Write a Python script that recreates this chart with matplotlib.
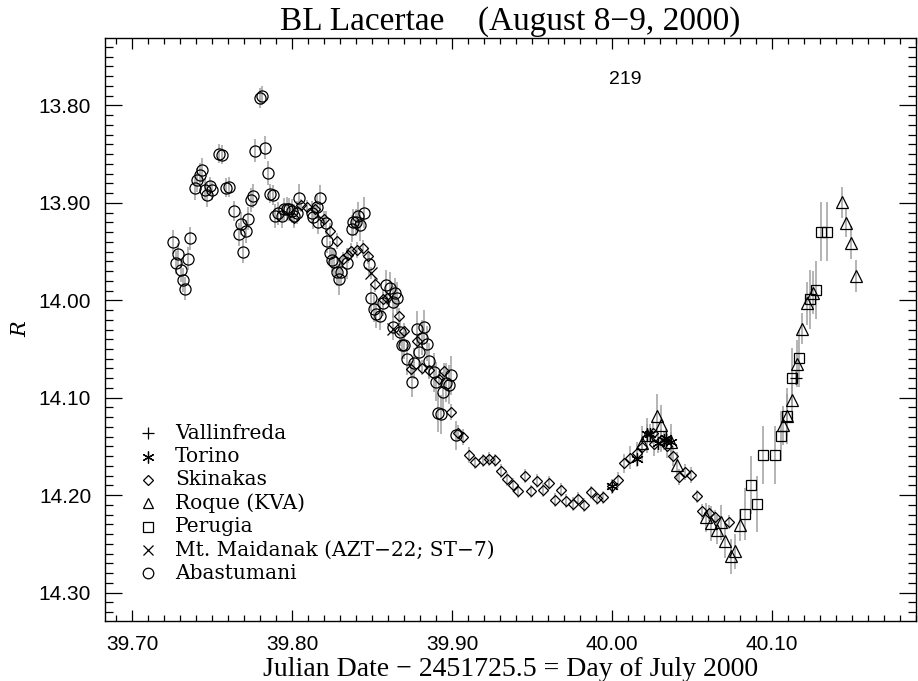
import matplotlib
matplotlib.use('Agg')
import matplotlib.pyplot as plt
from matplotlib.ticker import MultipleLocator, FormatStrFormatter

# Abastumani (circles)
abas_x = [39.7256, 39.7271, 39.7288, 39.7303, 39.7317, 39.7331, 39.7346, 39.7363, 39.7394, 39.7406,
          39.7421, 39.7438, 39.7453, 39.7469, 39.7486, 39.7500, 39.7544, 39.7561, 39.7586, 39.7603,
          39.7634, 39.7665, 39.7679, 39.7694, 39.7711, 39.7725, 39.7740, 39.7754, 39.7769, 39.7800,
          39.7813, 39.7829, 39.7846, 39.7861, 39.7878, 39.7892, 39.7909, 39.7934, 39.7950, 39.7967,
          39.7981, 39.7996, 39.8013, 39.8028, 39.8044, 39.8121, 39.8131, 39.8156, 39.8163, 39.8173,
          39.8211, 39.8219, 39.8236, 39.8246, 39.8261, 39.8278, 39.8294, 39.8303, 39.8344, 39.8371,
          39.8381, 39.8398, 39.8409, 39.8423, 39.8450, 39.8479, 39.8492, 39.8511, 39.8523, 39.8548,
          39.8569, 39.8586, 39.8611, 39.8628, 39.8628, 39.8642, 39.8653, 39.8673, 39.8684, 39.8698,
          39.8721, 39.8750, 39.8763, 39.8781, 39.8794, 39.8811, 39.8823, 39.8842, 39.8856, 39.8886,
          39.8898, 39.8913, 39.8929, 39.8944, 39.8961, 39.8978, 39.8992, 39.9023]
abas_r = [13.9404, 13.9615, 13.9530, 13.9694, 13.9793, 13.9881, 13.9574, 13.9366, 13.8853, 13.8768,
          13.8717, 13.8662, 13.8864, 13.8922, 13.8833, 13.8874, 13.8495, 13.8505, 13.8846, 13.8836,
          13.9086, 13.9325, 13.9215, 13.9502, 13.9294, 13.9164, 13.8973, 13.8932, 13.8467, 13.7924,
          13.7901, 13.8436, 13.8693, 13.8905, 13.8922, 13.9137, 13.9110, 13.9137, 13.9069, 13.9061,
          13.9069, 13.9086, 13.9137, 13.9102, 13.8949, 13.9102, 13.9148, 13.9045, 13.9199, 13.8956,
          13.9205, 13.9393, 13.9512, 13.9588, 13.9609, 13.9711, 13.9786, 13.9711, 13.9622, 13.9266,
          13.9199, 13.9199, 13.9137, 13.9233, 13.9102, 13.9632, 13.9973, 14.0086, 14.0144, 14.0162,
          14.0025, 13.9847, 13.9871, 14.0018, 14.0270, 13.9929, 13.9973, 14.0326, 14.0462, 14.0462,
          14.0606, 14.0834, 14.0647, 14.0291, 14.0527, 14.0383, 14.0275, 14.0445, 14.0623, 14.0736,
          14.0834, 14.1152, 14.1169, 14.0936, 14.0844, 14.0869, 14.0769, 14.1384]
abas_e = [0.012, 0.012, 0.012, 0.012, 0.012, 0.012, 0.012, 0.012, 0.012, 0.012,
          0.012, 0.012, 0.012, 0.012, 0.010, 0.010, 0.010, 0.010, 0.010, 0.010,
          0.010, 0.012, 0.012, 0.012, 0.012, 0.012, 0.012, 0.012, 0.012, 0.010,
          0.010, 0.012, 0.012, 0.010, 0.010, 0.012, 0.012, 0.012, 0.012, 0.012,
          0.012, 0.012, 0.012, 0.012, 0.014, 0.012, 0.012, 0.012, 0.012, 0.014,
          0.012, 0.012, 0.012, 0.012, 0.014, 0.014, 0.016, 0.014, 0.016, 0.014,
          0.014, 0.014, 0.014, 0.016, 0.016, 0.012, 0.014, 0.014, 0.014, 0.014,
          0.014, 0.016, 0.016, 0.016, 0.014, 0.016, 0.016, 0.014, 0.014, 0.014,
          0.016, 0.016, 0.016, 0.018, 0.018, 0.018, 0.018, 0.018, 0.018, 0.020,
          0.020, 0.020, 0.020, 0.020, 0.020, 0.020, 0.020, 0.015]

# Skinakas (diamonds)
skin_x = [39.8011, 39.8053, 39.8094, 39.8142, 39.8200, 39.8236, 39.8278, 39.8315, 39.8350, 39.8367,
          39.8406, 39.8440, 39.8471, 39.8517, 39.8565, 39.8590, 39.8669, 39.8700, 39.8746, 39.8778,
          39.8813, 39.8856, 39.8917, 39.8950, 39.8992, 39.9034, 39.9069, 39.9104, 39.9146, 39.9190,
          39.9229, 39.9271, 39.9303, 39.9340, 39.9381, 39.9415, 39.9456, 39.9492, 39.9531, 39.9569,
          39.9603, 39.9644, 39.9681, 39.9715, 39.9753, 39.9784, 39.9825, 39.9867, 39.9906, 39.9944,
          40.0000, 40.0038, 40.0075, 40.0111, 40.0153, 40.0186, 40.0253, 40.0263, 40.0309, 40.0344,
          40.0381, 40.0417, 40.0454, 40.0496, 40.0528, 40.0565, 40.0606, 40.0642, 40.0729]
skin_r = [13.9154, 13.9028, 13.9045, 13.9069, 13.9164, 13.9291, 13.9393, 13.9581, 13.9540, 13.9496,
          13.9486, 13.9461, 13.9547, 13.9837, 13.9991, 13.9973, 14.0162, 14.0316, 14.0708, 14.0418,
          14.0691, 14.0718, 14.0810, 14.0725, 14.1145, 14.1364, 14.1402, 14.1589, 14.1664, 14.1643,
          14.1627, 14.1643, 14.1750, 14.1835, 14.1893, 14.1961, 14.1804, 14.1961, 14.1852, 14.1944,
          14.1873, 14.2050, 14.1948, 14.2060, 14.2091, 14.2040, 14.2098, 14.1971, 14.2033, 14.2023,
          14.1910, 14.1842, 14.1674, 14.1613, 14.1569, 14.1507, 14.1357, 14.1476, 14.1436, 14.1494,
          14.1596, 14.1811, 14.1760, 14.1794, 14.2012, 14.2166, 14.2183, 14.2227, 14.2272]
skin_e = [0.008, 0.007, 0.007, 0.008, 0.008, 0.008, 0.008, 0.008, 0.008, 0.008,
          0.008, 0.008, 0.008, 0.008, 0.008, 0.008, 0.008, 0.008, 0.008, 0.008,
          0.008, 0.008, 0.008, 0.008, 0.008, 0.008, 0.008, 0.008, 0.007, 0.007,
          0.007, 0.007, 0.007, 0.007, 0.007, 0.007, 0.007, 0.007, 0.007, 0.007,
          0.007, 0.007, 0.007, 0.007, 0.007, 0.007, 0.007, 0.007, 0.007, 0.007,
          0.008, 0.008, 0.010, 0.012, 0.012, 0.012, 0.012, 0.012, 0.012, 0.012,
          0.010, 0.008, 0.008, 0.008, 0.007, 0.008, 0.008, 0.008, 0.007]

# Torino (asterisks)
tori_x = [40.0000, 40.0156, 40.0219, 40.0240, 40.0288, 40.0325, 40.0340, 40.0367]
tori_r = [14.1910, 14.1630, 14.1367, 14.1367, 14.1466, 14.1436, 14.1418, 14.1453]
tori_e = [0.006, 0.008, 0.010, 0.010, 0.010, 0.010, 0.010, 0.010]

# Roque (KVA) (triangles)
roq_x = [40.0190, 40.0219, 40.0278, 40.0309, 40.0367, 40.0403, 40.0590, 40.0617, 40.0653, 40.0684,
         40.0709, 40.0746, 40.0771, 40.0798, 40.1069, 40.1096, 40.1128, 40.1159, 40.1186, 40.1219,
         40.1256, 40.1438, 40.1465, 40.1496, 40.1528]
roq_r = [14.1469, 14.1384, 14.1186, 14.1279, 14.1453, 14.1692, 14.2227, 14.2286, 14.2355, 14.2279,
         14.2467, 14.2627, 14.2576, 14.2306, 14.1282, 14.1186, 14.1023, 14.0650, 14.0291, 14.0032,
         13.9922, 13.8994, 13.9205, 13.9410, 13.9752]
roq_e = [0.018, 0.018, 0.022, 0.020, 0.018, 0.014, 0.015, 0.018, 0.015, 0.018,
         0.018, 0.018, 0.018, 0.016, 0.020, 0.022, 0.020, 0.024, 0.016, 0.022,
         0.022, 0.016, 0.015, 0.017, 0.016]

# Perugia (squares)
per_x = [40.0834, 40.0869, 40.0904, 40.0944, 40.1019, 40.1053, 40.1096, 40.1123, 40.1167, 40.1240,
         40.1278, 40.1309, 40.1344]
per_r = [14.2194, 14.1893, 14.2091, 14.1589, 14.1589, 14.1391, 14.1186, 14.0793, 14.0595, 13.9991,
         13.9895, 13.9297, 13.9297]
per_e = [0.027, 0.030, 0.029, 0.030, 0.030, 0.026, 0.029, 0.030, 0.029, 0.030,
         0.030, 0.030, 0.030]

# Mt. Maidanak (crosses)
maid_x = [39.8490, 39.8628]
maid_r = [13.9717, 14.0298]
maid_e = [0.006, 0.006]

# Vallinfreda (plus)
vall_x = [40.1148]
vall_r = [14.0793]
vall_e = [0.008]

asterisk = (6, 2, 0)
series = [
    ('Vallinfreda', vall_x, vall_r, vall_e, '+', 9),
    ('Torino', tori_x, tori_r, tori_e, asterisk, 9),
    ('Skinakas', skin_x, skin_r, skin_e, 'D', 5.5),
    ('Roque (KVA)', roq_x, roq_r, roq_e, '^', 8),
    ('Perugia', per_x, per_r, per_e, 's', 7.5),
    ('Mt. Maidanak (AZT\u221222; ST\u22127)', maid_x, maid_r, maid_e, 'x', 8),
    ('Abastumani', abas_x, abas_r, abas_e, 'o', 8),
]

fig = plt.figure(figsize=(9.18, 6.81), dpi=100)
ax = fig.add_axes([0.1144, 0.0881, 0.8834, 0.8561])

for name, x, r, e, m, ms in series:
    ax.errorbar(x, r, yerr=e, fmt='none', ecolor='#a0a0a0', elinewidth=1.1, capsize=0, zorder=1)
for name, x, r, e, m, ms in series:
    ax.plot(x, r, linestyle='none', marker=m, markersize=ms, markerfacecolor='none',
            markeredgecolor='black', markeredgewidth=0.9, zorder=3)

ax.set_xlim(39.683, 40.190)
ax.set_ylim(14.329, 13.731)

ax.xaxis.set_major_locator(MultipleLocator(0.1))
ax.xaxis.set_minor_locator(MultipleLocator(0.01))
ax.yaxis.set_major_locator(MultipleLocator(0.1))
ax.yaxis.set_minor_locator(MultipleLocator(0.01))
ax.xaxis.set_major_formatter(FormatStrFormatter('%.2f'))
ax.yaxis.set_major_formatter(FormatStrFormatter('%.2f'))

for s in ax.spines.values():
    s.set_linewidth(1.0)
ax.tick_params(which='both', direction='in', top=True, right=True, width=0.9, labelsize=15)
ax.tick_params(axis='x', which='major', length=8, pad=10)
ax.tick_params(axis='x', which='minor', length=4)
ax.tick_params(axis='y', which='major', length=12, pad=10)
ax.tick_params(axis='y', which='minor', length=6)
for lab in ax.get_xticklabels() + ax.get_yticklabels():
    lab.set_family(['Liberation Sans', 'DejaVu Sans'])

ax.set_title('BL Lacertae    (August 8\u22129, 2000)', family='Liberation Serif',
             fontsize=24, pad=6)
ax.set_xlabel('Julian Date \u2212 2451725.5 = Day of July 2000', family='Liberation Serif',
              fontsize=20, labelpad=2)
ax.set_ylabel('R', family='DejaVu Serif', style='italic', fontsize=15, labelpad=6)

ax.text(0.642, 0.928, '219', transform=ax.transAxes, ha='center', va='center',
        fontsize=14, family=['Liberation Sans', 'DejaVu Sans'])

# legend, drawn by hand in axes fraction
y0 = 0.3219
dy = 0.040
for i, (name, x, r, e, m, ms) in enumerate(series):
    yy = y0 - i * dy
    ax.plot([0.053], [yy], transform=ax.transAxes, linestyle='none', marker=m,
            markersize=ms * 0.95, markerfacecolor='none', markeredgecolor='black',
            markeredgewidth=0.9, clip_on=False)
    ax.text(0.0863, yy, name, transform=ax.transAxes, va='center', ha='left',
            fontsize=14.5, family='DejaVu Serif')

fig.savefig('out.png', dpi=100)
